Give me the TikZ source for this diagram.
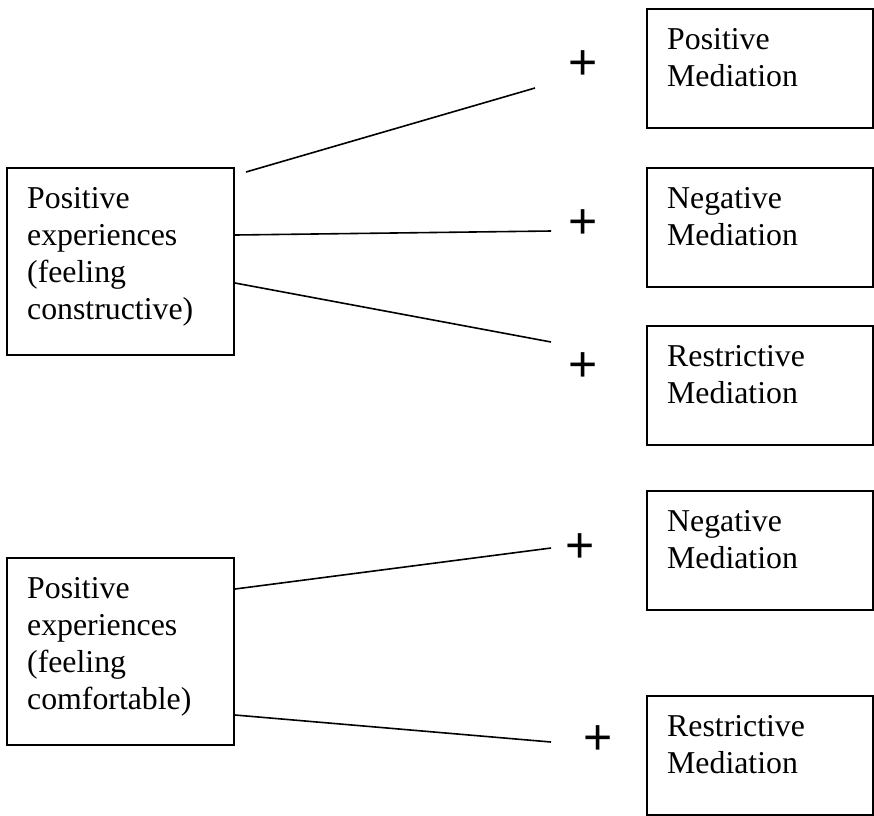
\documentclass[tikz,border=0pt]{standalone}
\usepackage{fontspec}
\setmainfont{Liberation Serif}
\newfontfamily\plusfont{Liberation Sans}
\usetikzlibrary{calc}
\begin{document}
\begin{tikzpicture}[x=1pt,y=-1pt,
  leftbox/.style={draw, line width=2pt, anchor=north west, inner sep=0pt,
    minimum width=227pt, minimum height=187pt},
  rightbox/.style={draw, line width=2pt, anchor=north west, inner sep=0pt,
    minimum width=226pt, minimum height=119pt},
  boxtext/.style={anchor=base west, inner sep=0pt, align=left, text width=200pt,
    font=\fontsize{31.8}{37}\selectfont},
  sign/.style={inner sep=0pt, font=\plusfont\fontsize{50}{50}\selectfont},
  link/.style={line width=1.6pt}]
\useasboundingbox (0,0) rectangle (874,815);

% source boxes
\node[leftbox] (L1) at (6,167) {};
\node[leftbox] (L2) at (6,557) {};
\node[boxtext] (tL1) at ($(L1.north west)+(21,41)$) {Positive\\experiences\\(feeling\\constructive)};
\node[boxtext] (tL2) at ($(L2.north west)+(21,41)$) {Positive\\experiences\\(feeling\\comfortable)};

% mediation boxes
\node[rightbox] (R1) at (646,8) {};
\node[rightbox] (R2) at (646,167) {};
\node[rightbox] (R3) at (646,325) {};
\node[rightbox] (R4) at (646,490) {};
\node[rightbox] (R5) at (646,695) {};
\node[boxtext] (tR1) at ($(R1.north west)+(21,41)$) {Positive\\Mediation};
\node[boxtext] (tR2) at ($(R2.north west)+(21,41)$) {Negative\\Mediation};
\node[boxtext] (tR3) at ($(R3.north west)+(21,41)$) {Restrictive\\Mediation};
\node[boxtext] (tR4) at ($(R4.north west)+(21,41)$) {Negative\\Mediation};
\node[boxtext] (tR5) at ($(R5.north west)+(21,41)$) {Restrictive\\Mediation};

% plus signs
\node[sign] (p1) at (583,65) {+};
\node[sign] (p2) at (583,224) {+};
\node[sign] (p3) at (583,367) {+};
\node[sign] (p4) at (580,548) {+};
\node[sign] (p5) at (598,740) {+};

% connector end points
\coordinate (s1) at (246,172);
\coordinate (s2) at ($(L1.north east)+(0,68)$);
\coordinate (s3) at ($(L1.north east)+(0,116)$);
\coordinate (s4) at ($(L2.north east)+(0,32)$);
\coordinate (s5) at ($(L2.north east)+(0,158)$);
\coordinate (e1) at (535,88);
\coordinate (e2) at (551,231);
\coordinate (e3) at (551,342);
\coordinate (e4) at (551,548);
\coordinate (e5) at (551,742);

\draw[link] (s1) -- (e1);
\draw[link] (s2) -- (e2);
\draw[link] (s3) -- (e3);
\draw[link] (s4) -- (e4);
\draw[link] (s5) -- (e5);
\end{tikzpicture}
\end{document}
